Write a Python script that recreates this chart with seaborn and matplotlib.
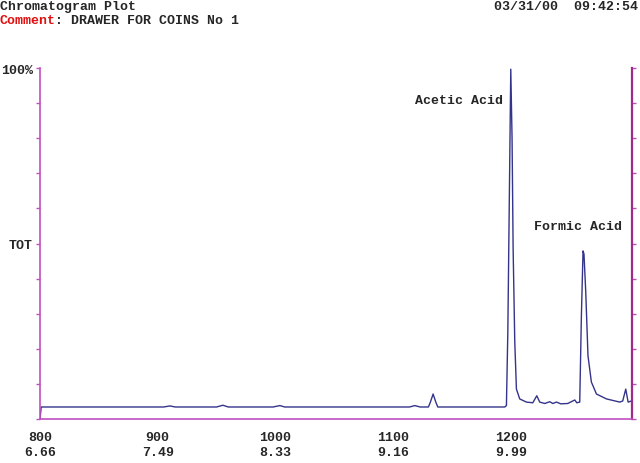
import numpy as np
import matplotlib.pyplot as plt
import seaborn as sns

# scan number and relative abundance (%)
scan = [800, 801, 905, 910.4, 915, 950, 955.4, 960, 998, 1003.8, 1008, 1114, 1118.5, 1123,
        1130, 1131.5, 1134.0, 1136.5, 1138, 1194.9, 1196.3, 1197.5, 1200.0, 1201.1, 1202.0,
        1203.4, 1204.8, 1207.6, 1213.3, 1218.7, 1222.1, 1224.6, 1228.9, 1233.1, 1235.7,
        1238.8, 1242.5, 1248.4, 1254.4, 1256.1, 1258.6, 1260.0, 1261.4, 1262.2, 1263.7,
        1265.6, 1268.5, 1272.8, 1281.3, 1292.6, 1295.1, 1297.7, 1299.7, 1302.5]
abundance = [0.0, 3.4, 3.4, 3.7, 3.4, 3.4, 3.9, 3.4, 3.4, 3.8, 3.4, 3.4, 3.8, 3.4,
             3.4, 4.6, 7.1, 4.6, 3.4, 3.4, 3.8, 24.8, 99.7, 79.8, 48.4,
             21.9, 8.5, 5.7, 4.8, 4.6, 6.6, 4.8, 4.4, 4.9, 4.4,
             4.8, 4.3, 4.4, 5.4, 4.6, 4.8, 29.4, 47.9, 47.0, 36.2,
             18.0, 10.5, 7.1, 5.7, 4.8, 5.1, 8.5, 4.8, 5.1]

major_ticks = [800, 900, 1000, 1100, 1200]
minutes = ["6.66", "7.49", "8.33", "9.16", "9.99"]
peak_names = ["Acetic Acid", "Formic Acid"]
peak_scan = [1200.0, 1261.4]
peak_height = [99.7, 47.9]

sns.set_style("white")
mono = ["Liberation Mono", "DejaVu Sans Mono"]
axis_col = "#c050c0"
line_col = "#34348a"
fs = 9.5

fig = plt.figure(figsize=(6.4, 4.64), dpi=100)
ax = fig.add_axes([0.0625, 0.095, 0.925, 0.756])

sns.lineplot(x=scan, y=abundance, ax=ax, color=line_col, linewidth=1.0,
             estimator=None, sort=False)

ax.set_xlim(800, 1303)
ax.set_ylim(0, 100)
ax.set_xlabel("")
ax.set_ylabel("")

for side in ["left", "right", "bottom"]:
    ax.spines[side].set_color(axis_col)
    ax.spines[side].set_linewidth(1.2)
ax.spines["right"].set_color("#a02a8a")
ax.spines["right"].set_linewidth(1.6)
ax.spines["top"].set_visible(False)

ax.set_xticks(major_ticks)
ax.set_xticklabels([f"{m}\n{t}" for m, t in zip(major_ticks, minutes)],
                   family=mono, fontweight="bold", fontsize=fs, linespacing=1.3)
ax.set_xticks(np.arange(800, 1301, 10), minor=True)
ax.tick_params(axis="x", which="major", direction="out", length=6, width=1.2,
               color=axis_col, pad=3)
ax.tick_params(axis="x", which="minor", direction="out", length=3.5, width=1,
               color=axis_col)

ax.set_yticks([100, 50])
ax.set_yticklabels(["100%", "TOT"], family=mono, fontweight="bold", fontsize=fs)
ax.set_yticks(np.arange(0, 101, 10), minor=True)
ax.tick_params(axis="y", which="both", direction="out", length=3, width=1,
               color=axis_col, left=True, right=True, pad=2)

# peak labels, offsets in points from the peak apex
offsets = [(-69, -22), (-35, 18)]
for name, x, y, off in zip(peak_names, peak_scan, peak_height, offsets):
    ax.annotate(name, xy=(x, y), xytext=off, textcoords="offset points",
                ha="left", va="center", family=mono, fontweight="bold", fontsize=fs)

fig.text(0.0, 0.984, "Chromatogram Plot", ha="left", va="center",
         family=mono, fontweight="bold", fontsize=fs)
fig.text(0.0, 0.954, "Comment", ha="left", va="center", color="#e01010",
         family=mono, fontweight="bold", fontsize=fs)
fig.text(0.0866, 0.954, ": DRAWER FOR COINS No 1", ha="left", va="center",
         family=mono, fontweight="bold", fontsize=fs)
fig.text(0.997, 0.984, "03/31/00  09:42:54", ha="right", va="center",
         family=mono, fontweight="bold", fontsize=fs)

fig.savefig("out.png", dpi=100, facecolor="white")
